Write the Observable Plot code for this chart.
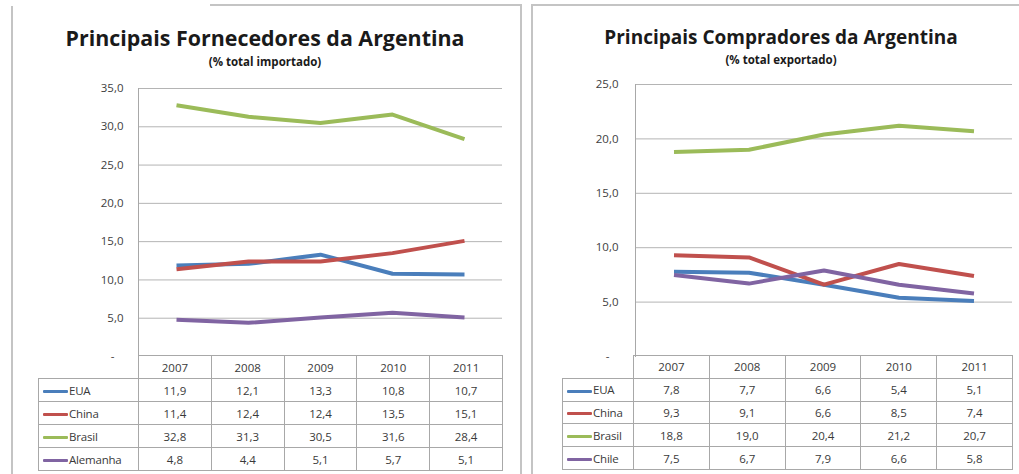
<!DOCTYPE html>
<html>
<head>
<meta charset="utf-8">
<script src="https://cdn.jsdelivr.net/npm/d3@7"></script>
<script src="https://cdn.jsdelivr.net/npm/@observablehq/plot@0.6"></script>
<style>
  html, body { margin: 0; padding: 0; background: #fff; }
  body { width: 1019px; height: 474px; position: relative; overflow: hidden; font-family: "Open Sans", sans-serif; }
  .abs { position: absolute; }
  .line { position: absolute; background: #c4c4c4; }
  .ttl { position: absolute; text-align: center; font-weight: bold; color: #1a1a1a; white-space: nowrap; width: 500px; }
  table.data { position: absolute; border-collapse: collapse; table-layout: fixed; font-size: 11.5px; color: #3a3a3a; }
  table.data td { border: 1px solid #a8a8a8; text-align: center; padding: 0; white-space: nowrap; }
  table.data td.blank { border-top: none; border-left: none; }
  table.data td.leg { text-align: left; padding-left: 4px; letter-spacing: -0.2px; }
  .sw { display: inline-block; width: 25px; height: 3px; vertical-align: middle; margin-right: 1px; border-radius: 1px; }
</style>
</head>
<body>
<script>
// ---------- data ----------
const years = ["2007", "2008", "2009", "2010", "2011"];

const supplierTitle = "Principais Fornecedores da Argentina";
const supplierSubtitle = "(% total importado)";
const supplierNames = ["EUA", "China", "Brasil", "Alemanha"];
const supplierEUA = [11.9, 12.1, 13.3, 10.8, 10.7];
const supplierChina = [11.4, 12.4, 12.4, 13.5, 15.1];
const supplierBrasil = [32.8, 31.3, 30.5, 31.6, 28.4];
const supplierAlemanha = [4.8, 4.4, 5.1, 5.7, 5.1];
const supplierTicks = [0, 5, 10, 15, 20, 25, 30, 35];

const buyerTitle = "Principais Compradores da Argentina";
const buyerSubtitle = "(% total exportado)";
const buyerNames = ["EUA", "China", "Brasil", "Chile"];
const buyerEUA = [7.8, 7.7, 6.6, 5.4, 5.1];
const buyerChina = [9.3, 9.1, 6.6, 8.5, 7.4];
const buyerBrasil = [18.8, 19.0, 20.4, 21.2, 20.7];
const buyerChile = [7.5, 6.7, 7.9, 6.6, 5.8];
const buyerTicks = [0, 5, 10, 15, 20, 25];

const seriesColors = ["#4A7EBB", "#C0504D", "#9BBB59", "#8064A2"];

// ---------- helpers ----------
const fmt = v => v.toFixed(1).replace(".", ",");
const tickFmt = v => v === 0 ? "-   " : fmt(v);

function addLine(x, y, w, h) {
  const d = document.createElement("div");
  d.className = "line";
  Object.assign(d.style, {left: x + "px", top: y + "px", width: w + "px", height: h + "px"});
  document.body.appendChild(d);
}

function addText(text, cx, cy, size) {
  const d = document.createElement("div");
  d.className = "ttl";
  d.style.left = (cx - 250) + "px";
  d.style.fontSize = size + "px";
  d.style.lineHeight = (size + 6) + "px";
  d.style.top = (cy - (size + 6) / 2) + "px";
  d.textContent = text;
  document.body.appendChild(d);
}

function makeChart({left, width, names, values, ticks, marginLeft, marginRight, marginTop, tickPadding}) {
  const data = names.flatMap((n, i) => years.map((y, j) => ({series: n, year: y, value: values[i][j]})));
  const yMax = ticks[ticks.length - 1];
  const chart = Plot.plot({
    width, height: 474,
    marginLeft, marginRight, marginTop, marginBottom: 118,
    style: {fontFamily: "Open Sans", fontSize: "11.5px", color: "#404040", background: "transparent"},
    x: {type: "band", domain: years, padding: 0, axis: null},
    y: {domain: [0, yMax], label: null},
    color: {domain: names, range: seriesColors},
    marks: [
      Plot.gridY(ticks.filter(t => t > 0), {stroke: "#b4b4b4", strokeOpacity: 1}),
      Plot.axisY(ticks, {tickSize: 0, tickPadding, tickFormat: tickFmt, fill: "#404040", label: null}),
      Plot.frame({anchor: "left", stroke: "#a8a8a8"}),
      Plot.line(data, {x: "year", y: "value", z: "series", stroke: "series", strokeWidth: 4, strokeLinejoin: "round", strokeLinecap: "butt"})
    ]
  });
  chart.classList.add("abs");
  chart.style.left = left + "px";
  chart.style.top = "0px";
  document.body.appendChild(chart);
}

function makeTable({left, top, legendWidth, colWidth, rowHeight, names, values}) {
  const t = document.createElement("table");
  t.className = "data";
  t.style.left = left + "px";
  t.style.top = top + "px";
  t.style.width = (legendWidth + colWidth * years.length) + "px";
  const cg = document.createElement("colgroup");
  [legendWidth, ...years.map(() => colWidth)].forEach(w => {
    const c = document.createElement("col");
    c.style.width = w + "px";
    cg.appendChild(c);
  });
  t.appendChild(cg);
  const hr = document.createElement("tr");
  hr.style.height = rowHeight + "px";
  const blank = document.createElement("td");
  blank.className = "blank";
  hr.appendChild(blank);
  years.forEach(y => { const td = document.createElement("td"); td.textContent = y; hr.appendChild(td); });
  t.appendChild(hr);
  names.forEach((n, i) => {
    const tr = document.createElement("tr");
    tr.style.height = rowHeight + "px";
    const lg = document.createElement("td");
    lg.className = "leg";
    const sw = document.createElement("span");
    sw.className = "sw";
    sw.style.background = seriesColors[i];
    lg.appendChild(sw);
    lg.appendChild(document.createTextNode(n));
    tr.appendChild(lg);
    values[i].forEach(v => { const td = document.createElement("td"); td.textContent = fmt(v); tr.appendChild(td); });
    t.appendChild(tr);
  });
  document.body.appendChild(t);
}

// ---------- panel frames ----------
addLine(11, 6, 2, 468);      // left panel left edge
addLine(210, 4, 311, 2);     // left panel top edge
addLine(520, 4, 2, 470);     // left panel right edge
addLine(531, 6, 2, 468);     // right panel left edge
addLine(531, 4, 488, 2);     // right panel top edge

// ---------- left panel ----------
addText(supplierTitle, 265, 38, 21.4);
addText(supplierSubtitle, 265, 62, 11.5);
makeChart({
  left: 0, width: 510,
  names: supplierNames,
  values: [supplierEUA, supplierChina, supplierBrasil, supplierAlemanha],
  ticks: supplierTicks,
  marginLeft: 138, marginRight: 8, marginTop: 88, tickPadding: 15
});
makeTable({
  left: 38, top: 355, legendWidth: 100, colWidth: 72.8, rowHeight: 23,
  names: supplierNames,
  values: [supplierEUA, supplierChina, supplierBrasil, supplierAlemanha]
});

// ---------- right panel ----------
addText(buyerTitle, 781, 37, 19);
addText(buyerSubtitle, 781, 60, 11.5);
makeChart({
  left: 510, width: 509,
  names: buyerNames,
  values: [buyerEUA, buyerChina, buyerBrasil, buyerChile],
  ticks: buyerTicks,
  marginLeft: 125, marginRight: 7, marginTop: 84, tickPadding: 17
});
makeTable({
  left: 562, top: 355, legendWidth: 71, colWidth: 75.8, rowHeight: 22.8,
  names: buyerNames,
  values: [buyerEUA, buyerChina, buyerBrasil, buyerChile]
});
</script>
</body>
</html>
